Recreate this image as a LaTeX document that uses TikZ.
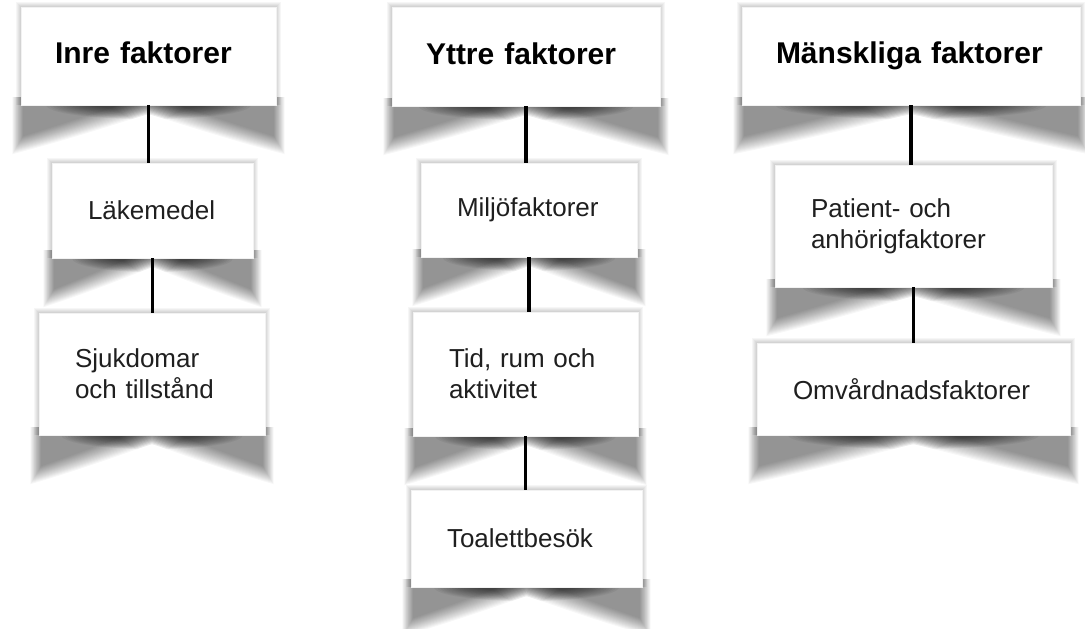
\documentclass[tikz,border=0pt]{standalone}
\usepackage{fontspec}
\setmainfont{Liberation Sans}
\usetikzlibrary{calc,backgrounds}

\tikzset{
  box/.style={fill=white, draw=black!5, inner xsep=36pt, inner ysep=0pt, align=left,
    font=\fontsize{26}{31}\selectfont, text=black!88},
  head/.style={box, inner xsep=34pt, font=\fontsize{30}{36}\selectfont\bfseries, text=black,
    execute at begin node=\vphantom{g}},
  link/.style={line width=3.8pt, black}
}

% outline of the curled shadow, #1 = offset
\newcommand{\foldpath}[1]{%
  ($(pl)+({-3-0.6*(#1)},-8)$) -- ($(pr)+({3+0.6*(#1)},-8)$) -- ($(pr)+({3+0.6*(#1)},{40+(#1)})$)
  .. controls ($(pr)!.5!(pc)+(0,{21+(#1)})$) and ($(pc)!.1!(pr)+(0,{3+(#1)})$) .. ($(pc)+(0,{0+(#1)})$)
  .. controls ($(pc)!.1!(pl)+(0,{3+(#1)})$) and ($(pl)!.5!(pc)+(0,{21+(#1)})$) .. ($(pl)+({-3-0.6*(#1)},{40+(#1)})$)
  -- cycle}

% curled sheet shadow under a node
\newcommand{\paperfold}[1]{%
  \path (#1.south west) coordinate (pl) (#1.south east) coordinate (pr)
        (#1.south) coordinate (pc) (#1.north west) coordinate (pt);
  \foreach \s in {1,...,5}
    \fill[black, opacity=.035] ($(pt)+(-\s,-\s)$) rectangle ($(pr)+(\s,0)$);
  \foreach \t [evaluate=\t as \u using 9-1.2*\t] in {0,...,15} {
    \begin{scope}
      \clip \foldpath{\u};
      \fill[black, opacity=.03] ($(pl)+(-20,-10)$) rectangle ($(pr)+(20,60)$);
      \fill[black, opacity=.045]
        ($(pc)!{.8-.025*\t}!(pl)$)
        .. controls ($(pc)!{.8-.025*\t}!(pl)+(0,{.55*(14-.7*\t)})$)
        and ($(pc)!{.45-.015*\t}!(pl)+(0,{14-.7*\t})$) .. ($(pc)+(0,{14-.7*\t})$)
        .. controls ($(pc)!{.45-.015*\t}!(pr)+(0,{14-.7*\t})$)
        and ($(pc)!{.8-.025*\t}!(pr)+(0,{.55*(14-.7*\t)})$) .. ($(pc)!{.8-.025*\t}!(pr)$)
        -- cycle;
    \end{scope}
  }
}

\begin{document}
\begin{tikzpicture}[x=1pt, y=-1pt]
  \useasboundingbox (0,0) rectangle (1085,629);

  \node[head, text width=187pt, minimum height=98pt] (1) at (148.5,56) {Inre faktorer};
  \node[box, text width=129pt, minimum height=95pt] (2) at (152.5,210.5) {Läkemedel};
  \node[box, text width=154pt, minimum height=122pt] (3) at (152,374) {Sjukdomar\\och tillstånd};

  \node[head, text width=200pt, minimum height=99pt] (4) at (526,56.5) {Yttre faktorer};
  \node[box, text width=144pt, minimum height=94pt] (5) at (529,210) {Miljöfaktorer};
  \node[box, text width=153pt, minimum height=124pt] (6) at (525.5,374) {Tid, rum och\\aktivitet};
  \node[box, text width=159pt, minimum height=97pt] (7) at (526.5,538.5) {Toalettbesök};

  \node[head, text width=270pt, minimum height=98pt] (8) at (911,56) {Mänskliga faktorer};
  \node[box, text width=205pt, minimum height=122pt] (9) at (913.5,226) {Patient- och\\anhörigfaktorer};
  \node[box, text width=241pt, minimum height=92pt] (10) at (913.5,389) {Omvårdnadsfaktorer};

  \begin{scope}[on background layer]
    \fill[white] (0,0) rectangle (1085,629);
    \foreach \n in {1,...,10} {\paperfold{\n}}
  \end{scope}

  \draw[link] (1) -- (1 |- 2.north);
  \draw[link] (2) -- (2 |- 3.north);
  \draw[link] (4) -- (4 |- 5.north);
  \draw[link] (5) -- (5 |- 6.north);
  \draw[link] (6) -- (6 |- 7.north);
  \draw[link] (8) -- (8 |- 9.north);
  \draw[link] (9) -- (9 |- 10.north);
\end{tikzpicture}
\end{document}
